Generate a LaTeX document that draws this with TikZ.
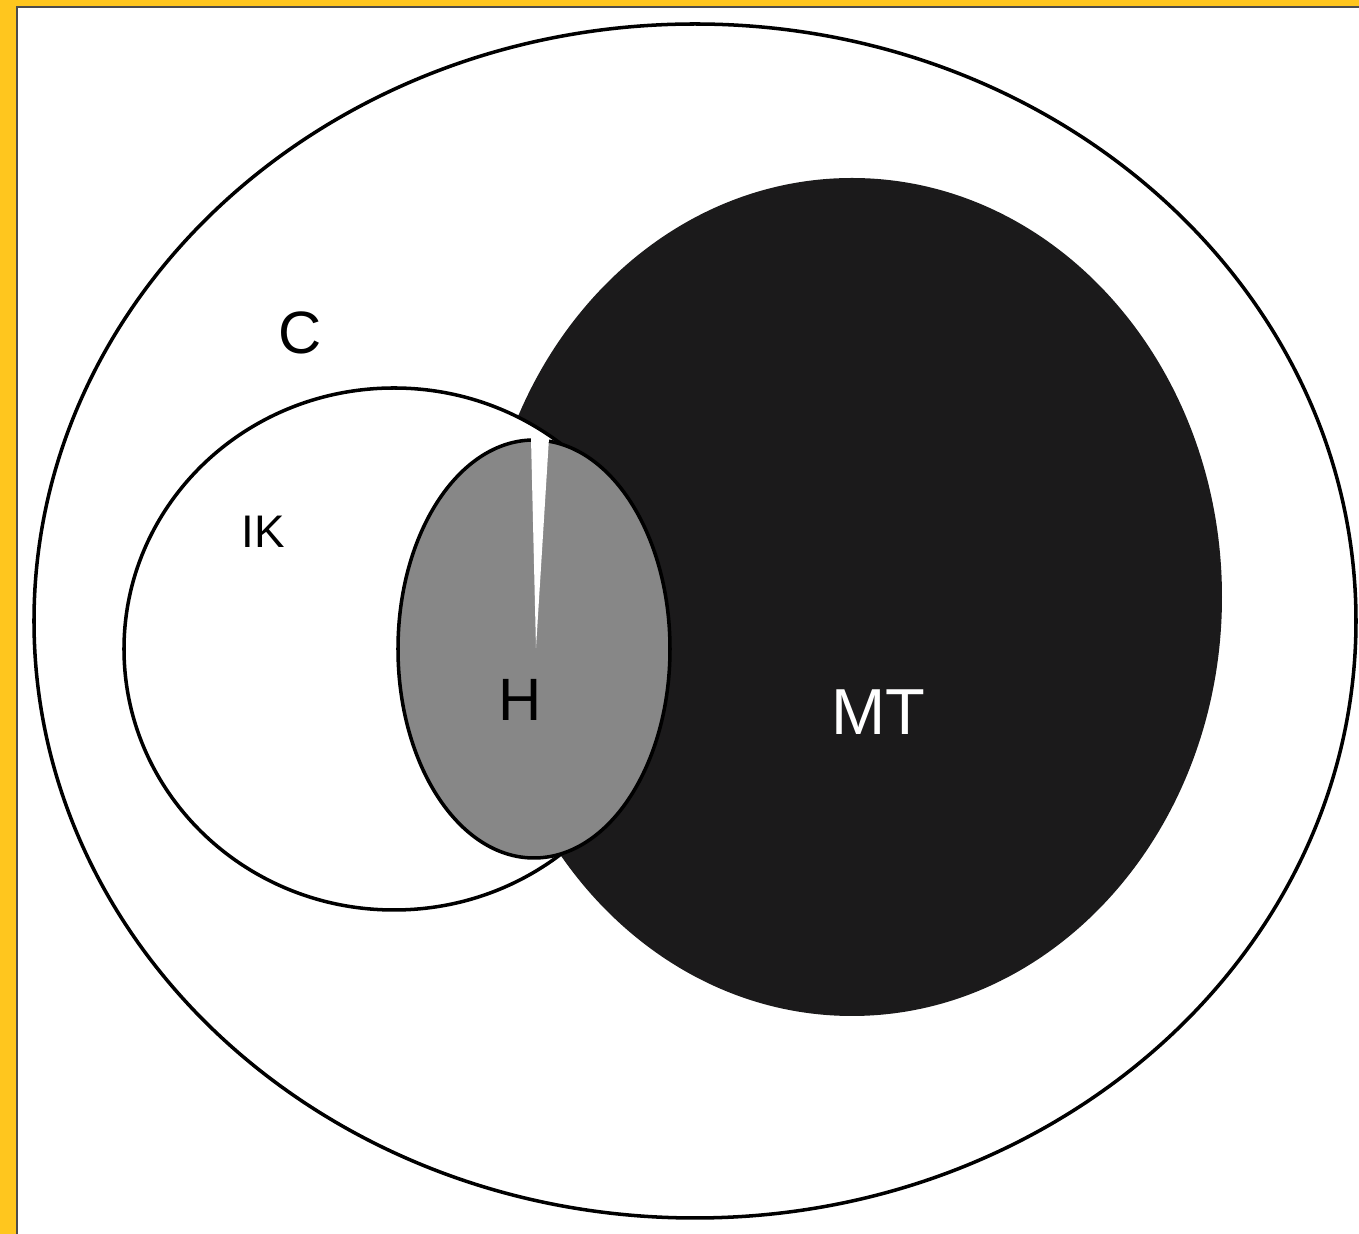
\documentclass[tikz,border=0pt]{standalone}
\usepackage{fontspec}
\setmainfont{Liberation Sans}
\usepackage{tikz}

\definecolor{frameyellow}{RGB}{255,198,30}
\definecolor{mtblack}{RGB}{27,26,27}
\definecolor{hgrey}{RGB}{135,135,135}

\begin{document}
\begin{tikzpicture}[x=0.01cm,y=-0.01cm,line width=0.9pt,
  set line/.style={draw=black,line width=1pt},
  label node/.style={inner sep=0pt,text=black},
  big label/.style={label node,font=\fontsize{17}{20}\selectfont},
  small label/.style={label node,font=\fontsize{13}{16}\selectfont}]
  \useasboundingbox (0,0) rectangle (1359,1234);
  \fill[frameyellow] (0,0) rectangle (1359,1234);
  \fill[white] (17,7) rectangle (1359,1234);
  \draw[black!70,line width=0.5pt] (17,1234) -- (17,7) -- (1359,7);

  \filldraw[set line,fill=white] (695,621) ellipse [x radius=661, y radius=597];
  \fill[mtblack] (852,597) ellipse [x radius=370, y radius=419];
  \filldraw[set line,fill=white] (394,649) ellipse [x radius=270, y radius=261];
  \filldraw[set line,fill=hgrey] (534,649) ellipse [x radius=136, y radius=209];
  \fill[white] (531,438) -- (549,438) -- (536,648) -- cycle;

  \node[big label]                (C)  at (300,333) {C};
  \node[small label]              (IK) at (263,532) {IK};
  \node[big label]                (H)  at (520,700) {H};
  \node[big label,text=white,font=\fontsize{18.5}{22}\selectfont] (MT) at (878,712) {MT};
\end{tikzpicture}
\end{document}
